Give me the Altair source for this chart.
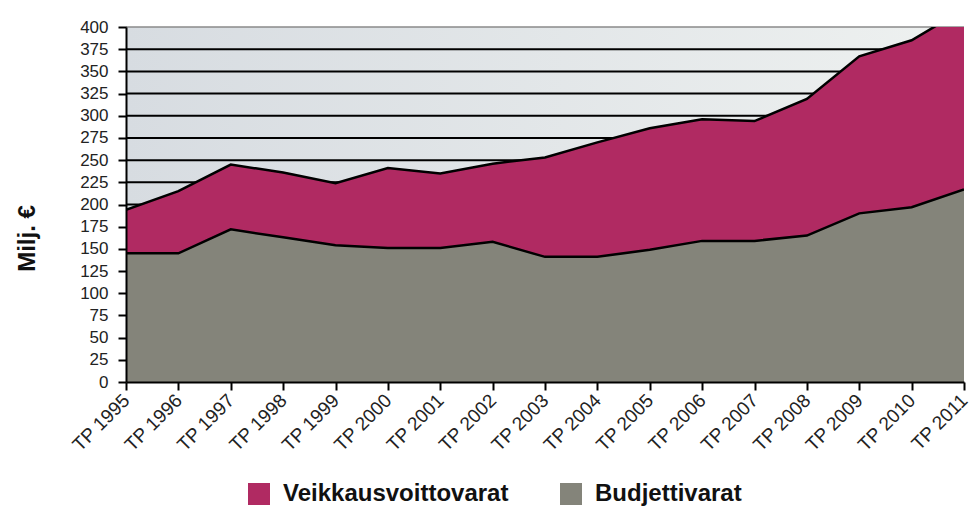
import altair as alt
import pandas as pd

years = list(range(1995, 2012))
budjettivarat = [145, 145, 172, 163, 154, 151, 151, 158, 141, 141, 149, 159, 159, 165, 190, 197, 217]
veikkausvoittovarat = [49, 70, 73, 73, 70, 90, 84, 88, 112, 129, 137, 137, 135, 154, 177, 188, 203]
y_ticks = list(range(0, 401, 25))
grid_values = list(range(25, 376, 25))
top_value = [400]
series_names = ["Veikkausvoittovarat", "Budjettivarat"]
series_colors = ["#b02a62", "#84847a"]

rows = []
for i, yr in enumerate(years):
    rows.append({"year": yr, "serie": "Budjettivarat", "value": budjettivarat[i], "ord": 0})
    rows.append({"year": yr, "serie": "Veikkausvoittovarat", "value": veikkausvoittovarat[i], "ord": 1})
df = pd.DataFrame(rows)

W, H = 838, 355

y_scale = alt.Scale(domain=[0, 400], nice=False)
y_axis = alt.Axis(values=y_ticks, grid=False, title="Milj. €",
                  labelFontSize=17, labelPadding=10, labelColor="#222",
                  tickSize=8, tickWidth=2, tickColor="black",
                  domainColor="black", domainWidth=2,
                  titleFontSize=24, titleFontWeight="bold", titleColor="#111",
                  titleX=-99, titleY=211, titleAlign="center",
                  titleBaseline="middle", zindex=1)
x_scale = alt.Scale(domain=[1995, 2011], nice=False, zero=False)
x_axis = alt.Axis(values=years, format="d", labelExpr="'TP ' + datum.label",
                  labelAngle=-45, labelAlign="right", labelBaseline="middle",
                  labelFontSize=19, labelPadding=7, labelColor="#222",
                  labelOverlap=False, labelBound=False,
                  tickSize=8, tickWidth=2, tickColor="black",
                  domainColor="black", domainWidth=2, grid=False,
                  title=None, zindex=1)

bg = alt.Chart(alt.Data(values=[{"a": 1}])).mark_rect(
    color=alt.LinearGradient(
        gradient="linear", x1=0, y1=0, x2=1, y2=0,
        stops=[alt.GradientStop(color="#d7dce1", offset=0),
               alt.GradientStop(color="#eef1f0", offset=1)]
    )
).encode(x=alt.value(0), x2=alt.value(W), y=alt.value(0), y2=alt.value(H))

grid = alt.Chart(pd.DataFrame({"value": grid_values})).mark_rule(
    color="black", strokeWidth=2
).encode(y=alt.Y("value:Q", scale=y_scale, axis=y_axis))

top = alt.Chart(pd.DataFrame({"value": top_value})).mark_rule(
    color="#8a8a8a", strokeWidth=1.5
).encode(y=alt.Y("value:Q", scale=y_scale, axis=y_axis))

area = alt.Chart(df).mark_area(clip=True, opacity=1).encode(
    x=alt.X("year:Q", scale=x_scale, axis=x_axis),
    y=alt.Y("value:Q", stack="zero", scale=y_scale, axis=y_axis),
    color=alt.Color("serie:N",
                    scale=alt.Scale(domain=series_names, range=series_colors),
                    legend=alt.Legend(orient="none", legendX=121, legendY=455,
                                      direction="horizontal", title=None,
                                      symbolType="square", symbolSize=484,
                                      symbolStrokeWidth=0, symbolOpacity=1,
                                      labelFontSize=24, labelFontWeight="bold",
                                      labelColor="#111", labelOffset=12,
                                      labelLimit=400, columnPadding=50)),
    order=alt.Order("ord:Q", sort="ascending"),
)

lines = alt.Chart(df).transform_stack(
    stack="value", groupby=["year"], as_=["v0", "v1"],
    sort=[alt.SortField("ord", order="ascending")]
).mark_line(clip=True, color="black", strokeWidth=2.5).encode(
    x=alt.X("year:Q", scale=x_scale, axis=x_axis),
    y=alt.Y("v1:Q", scale=y_scale, axis=y_axis),
    detail="serie:N",
)

chart = alt.layer(bg, grid, top, area, lines).properties(
    width=W, height=H,
    autosize=alt.AutoSizeParams(type="none"),
    padding={"left": 118, "top": 19, "right": 7, "bottom": 127},
).configure(font="Liberation Sans").configure_view(stroke=None)

chart.save("out.html", embed_options={"renderer": "svg", "actions": False})
